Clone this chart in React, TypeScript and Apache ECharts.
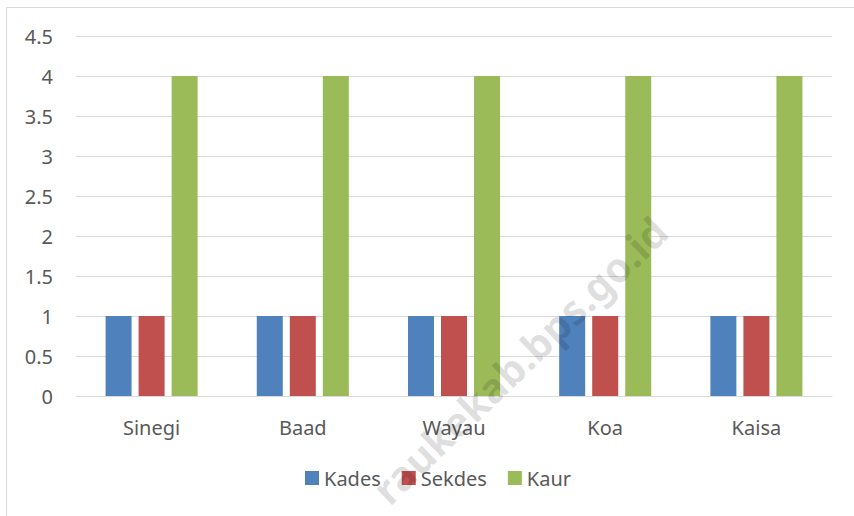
import React, { useEffect, useRef } from "react";
import * as echarts from "echarts";

const categories = ["Sinegi", "Baad", "Wayau", "Koa", "Kaisa"];
const kades = [1, 1, 1, 1, 1];
const sekdes = [1, 1, 1, 1, 1];
const kaur = [4, 4, 4, 4, 4];
const seriesNames = ["Kades", "Sekdes", "Kaur"];
const colors = ["#4F81BD", "#C0504D", "#9BBB59"];

const FONT = "'Noto Sans', sans-serif";

export default function App() {
  const ref = useRef<HTMLDivElement>(null);
  useEffect(() => {
    if (!ref.current) return;
    const chart = echarts.init(ref.current, undefined, { renderer: "svg" });
    const data = [kades, sekdes, kaur];
    chart.setOption({
      animation: false,
      backgroundColor: "#ffffff",
      textStyle: { fontFamily: FONT },
      grid: { left: 76, right: 22, top: 36, bottom: 120, containLabel: false },
      graphic: [
        {
          type: "rect",
          shape: { x: 6.5, y: 7.5, width: 900, height: 600 },
          style: { fill: "none", stroke: "#d9d9d9", lineWidth: 1 },
          silent: true,
          z: -10,
        },
        {
          type: "text",
          x: 660,
          y: 224,
          rotation: (44 * Math.PI) / 180,
          style: {
            text: "raukekab.bps.go.id",
            fontSize: 41,
            fontWeight: "bold",
            fontFamily: FONT,
            fill: "rgba(0,0,0,0.12)",
            align: "right",
            verticalAlign: "middle",
          },
          silent: true,
          z: 100,
        },
      ],
      legend: {
        data: seriesNames,
        bottom: 23,
        left: 300,
        itemWidth: 14,
        itemHeight: 14,
        itemGap: 21,
        icon: "rect",
        textStyle: { fontSize: 20, color: "#595959", fontFamily: FONT },
      },
      xAxis: {
        type: "category",
        data: categories,
        axisLine: { show: true, lineStyle: { color: "#d9d9d9", width: 1 } },
        axisTick: { show: false },
        axisLabel: { fontSize: 20, color: "#595959", margin: 21, fontFamily: FONT },
      },
      yAxis: {
        type: "value",
        min: 0,
        max: 4.5,
        interval: 0.5,
        axisLine: { show: false },
        axisTick: { show: false },
        axisLabel: { fontSize: 20, color: "#595959", margin: 23, fontFamily: FONT },
        splitLine: { lineStyle: { color: "#d9d9d9", width: 1 } },
      },
      series: seriesNames.map((name, i) => ({
        name,
        type: "bar",
        data: data[i],
        barWidth: 26,
        barGap: "27%",
        itemStyle: { color: colors[i] },
      })),
    });
    return () => chart.dispose();
  }, []);
  return (
    <div
      ref={ref}
      style={{ position: "fixed", left: 0, top: 0, width: 854, height: 516 }}
    />
  );
}
